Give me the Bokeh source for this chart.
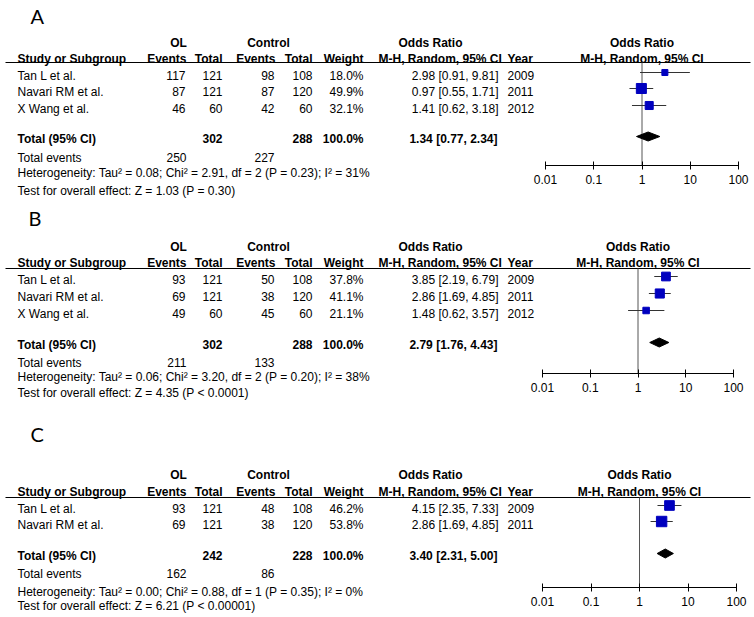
import math
from bokeh.plotting import figure
from bokeh.models import ColumnDataSource, Range1d, LogScale, LogAxis, FixedTicker, CustomJSTickFormatter
from bokeh.core.properties import value
from bokeh.embed import file_html
from bokeh.resources import INLINE

# ---------------- data ----------------
panel_names = ["A", "B", "C"]

studies_A = ["Tan L et al.", "Navari RM et al.", "X Wang et al."]
ol_events_A = [117, 87, 46]
ol_total_A = [121, 121, 60]
ctl_events_A = [98, 87, 42]
ctl_total_A = [108, 120, 60]
weight_A = [18.0, 49.9, 32.1]
or_A = [2.98, 0.97, 1.41]
lo_A = [0.91, 0.55, 0.62]
hi_A = [9.81, 1.71, 3.18]
year_A = [2009, 2011, 2012]
pooled_A = [1.34, 0.77, 2.34]
het_A = [0.08, 2.91, 2, "0.23", 31]
test_A = [1.03, "P = 0.30"]

studies_B = ["Tan L et al.", "Navari RM et al.", "X Wang et al."]
ol_events_B = [93, 69, 49]
ol_total_B = [121, 121, 60]
ctl_events_B = [50, 38, 45]
ctl_total_B = [108, 120, 60]
weight_B = [37.8, 41.1, 21.1]
or_B = [3.85, 2.86, 1.48]
lo_B = [2.19, 1.69, 0.62]
hi_B = [6.79, 4.85, 3.57]
year_B = [2009, 2011, 2012]
pooled_B = [2.79, 1.76, 4.43]
het_B = [0.06, 3.20, 2, "0.20", 38]
test_B = [4.35, "P < 0.0001"]

studies_C = ["Tan L et al.", "Navari RM et al."]
ol_events_C = [93, 69]
ol_total_C = [121, 121]
ctl_events_C = [48, 38]
ctl_total_C = [108, 120]
weight_C = [46.2, 53.8]
or_C = [4.15, 2.86]
lo_C = [2.35, 1.69]
hi_C = [7.33, 4.85]
year_C = [2009, 2011]
pooled_C = [3.40, 2.31, 5.00]
het_C = [0.00, 0.88, 1, "0.35", 0]
test_C = [6.21, "P < 0.00001"]

ticks = [0.01, 0.1, 1, 10, 100]
tick_labels = ["0.01", "0.1", "1", "10", "100"]

# ---------------- layout (pixel positions) ----------------
W, H = 754, 617
FONT = "Liberation Sans"
LETTER_FONT = "Lato"

LAYOUT = {
    "A": dict(label=(30, 15), hdr1=42, hdr2=58, line=62, rows=[75, 91, 108], total=138,
              events=157, het=172, test=190, axis=165, tick0=545, tick100=738),
    "B": dict(label=(28, 217), hdr1=246, hdr2=262, line=268, rows=[279, 296, 313], total=344,
              events=362, het=376, test=392, axis=373, tick0=542, tick100=733),
    "C": dict(label=(30, 433), hdr1=474, hdr2=491, line=497, rows=[508, 524], total=555,
              events=573, het=591, test=605, axis=587, tick0=542, tick100=736),
}

# column anchors
X_STUDY, X_OLE, X_OLT, X_CE, X_CT, X_W = 17, 185, 222, 274, 312, 363
X_OL_HDR, X_CTL_HDR, X_OR_HDR = 178, 268, 430
X_MH, X_CI, X_YEAR = 378, 498, 507
LINE_X0, LINE_X1 = 5, 750

extra_ranges = {}
extra_scales = {}
for k in panel_names:
    L = LAYOUT[k]
    dec = (L["tick100"] - L["tick0"]) / 4.0
    extra_ranges["or" + k] = Range1d(10 ** (-2 - L["tick0"] / dec), 10 ** (2 + (W - L["tick100"]) / dec))
    extra_scales["or" + k] = LogScale()

p = figure(width=W, height=H, output_backend="svg", toolbar_location=None,
           x_range=Range1d(0, W), y_range=Range1d(H, 0),
           x_axis_type=None, y_axis_type=None, min_border=0,
           outline_line_color=None, background_fill_color="white", border_fill_color="white")
p.extra_x_ranges = extra_ranges
p.extra_x_scales = extra_scales


def txt(xs, ys, ss, align="left", bold=False, size="12px", font=FONT, rng="default"):
    src = ColumnDataSource(dict(x=list(xs), y=list(ys), t=[str(s) for s in ss]))
    p.text(x="x", y="y", text="t", source=src, x_range_name=rng, text_align=align,
           text_baseline="middle", text_font=value(font), text_font_size=size,
           text_font_style="bold" if bold else "normal", text_color="black")


def panel(k, studies, oe, ot, ce, ct, wt, orv, lo, hi, yr, pooled, het, test):
    L = LAYOUT[k]
    rng = "or" + k
    rows = L["rows"]
    n = len(studies)

    # panel letter
    txt([L["label"][0]], [L["label"][1]], [k], size="20px", font=LETTER_FONT)

    # headers
    txt([X_OL_HDR, X_CTL_HDR, X_OR_HDR], [L["hdr1"]] * 3, ["OL", "Control", "Odds Ratio"], align="center", bold=True)
    txt([ticks[2]], [L["hdr1"]], ["Odds Ratio"], align="center", bold=True, rng=rng)
    txt([X_STUDY, X_MH, X_YEAR], [L["hdr2"]] * 3, ["Study or Subgroup", "M-H, Random, 95% CI", "Year"], bold=True)
    txt([X_OLE + 1, X_OLT, X_CE + 1, X_CT, X_W], [L["hdr2"]] * 5,
        ["Events", "Total", "Events", "Total", "Weight"], align="right", bold=True)
    txt([ticks[2]], [L["hdr2"]], ["M-H, Random, 95% CI"], align="center", bold=True, rng=rng)
    p.segment(x0=[LINE_X0], y0=[L["line"]], x1=[LINE_X1], y1=[L["line"]], line_color="black", line_width=1)

    # study rows
    txt([X_STUDY] * n, rows, studies)
    txt([X_OLE] * n, rows, oe, align="right")
    txt([X_OLT] * n, rows, ot, align="right")
    txt([X_CE] * n, rows, ce, align="right")
    txt([X_CT] * n, rows, ct, align="right")
    txt([X_W] * n, rows, ["%.1f%%" % w for w in wt], align="right")
    txt([X_CI] * n, rows, ["%.2f [%.2f, %.2f]" % (a, b, c) for a, b, c in zip(orv, lo, hi)], align="right")
    txt([X_YEAR] * n, rows, yr)

    # total rows
    ty = L["total"]
    txt([X_STUDY], [ty], ["Total (95% CI)"], bold=True)
    txt([X_OLT, X_CT, X_W], [ty] * 3, [sum(ot), sum(ct), "%.1f%%" % sum(wt)], align="right", bold=True)
    txt([X_CI - 1], [ty], ["%.2f [%.2f, %.2f]" % tuple(pooled)], align="right", bold=True)
    txt([X_STUDY], [L["events"]], ["Total events"])
    txt([X_OLE + 1, X_CE], [L["events"]] * 2, [sum(oe), sum(ce)], align="right")
    tau2, chi2, df, ph, i2 = het
    txt([X_STUDY], [L["het"]],
        ["Heterogeneity: Tau\u00b2 = %.2f; Chi\u00b2 = %.2f, df = %d (P = %s); I\u00b2 = %d%%" % (tau2, chi2, df, ph, i2)])
    txt([X_STUDY], [L["test"]], ["Test for overall effect: Z = %.2f (%s)" % (test[0], test[1])])

    # forest plot
    p.segment(x0=[ticks[2]], y0=[L["line"]], x1=[ticks[2]], y1=[L["axis"]], x_range_name=rng,
              line_color="#555555", line_width=1)
    my = [y - 3 for y in rows]
    p.segment(x0=lo, y0=my, x1=hi, y1=my, x_range_name=rng, line_color="#333333", line_width=1)
    p.scatter(x=orv, y=my, size=[1.42 * math.sqrt(w) for w in wt], marker="square",
              fill_color="#0000BF", line_color="#0000BF", x_range_name=rng)
    est, plo, phi = pooled
    dy = ty - 2
    p.patch(x=[plo, est, phi, est], y=[dy, dy - 4.5, dy, dy + 4.5], x_range_name=rng,
            fill_color="black", line_color="black")

    ax = LogAxis(x_range_name=rng, ticker=FixedTicker(ticks=ticks), bounds=(ticks[0], ticks[-1]),
                 fixed_location=L["axis"],
                 formatter=CustomJSTickFormatter(args=dict(labels=tick_labels), code="return labels[index];"),
                 major_tick_in=4, major_tick_out=4, minor_tick_line_color=None,
                 axis_line_color="black", major_tick_line_color="black",
                 major_label_text_font=FONT, major_label_text_font_size="12px",
                 major_label_text_color="black", major_label_standoff=5)
    p.add_layout(ax, "below")


panel("A", studies_A, ol_events_A, ol_total_A, ctl_events_A, ctl_total_A, weight_A, or_A, lo_A, hi_A,
      year_A, pooled_A, het_A, test_A)
panel("B", studies_B, ol_events_B, ol_total_B, ctl_events_B, ctl_total_B, weight_B, or_B, lo_B, hi_B,
      year_B, pooled_B, het_B, test_B)
panel("C", studies_C, ol_events_C, ol_total_C, ctl_events_C, ctl_total_C, weight_C, or_C, lo_C, hi_C,
      year_C, pooled_C, het_C, test_C)

open("out.html", "w").write(file_html(p, INLINE))
